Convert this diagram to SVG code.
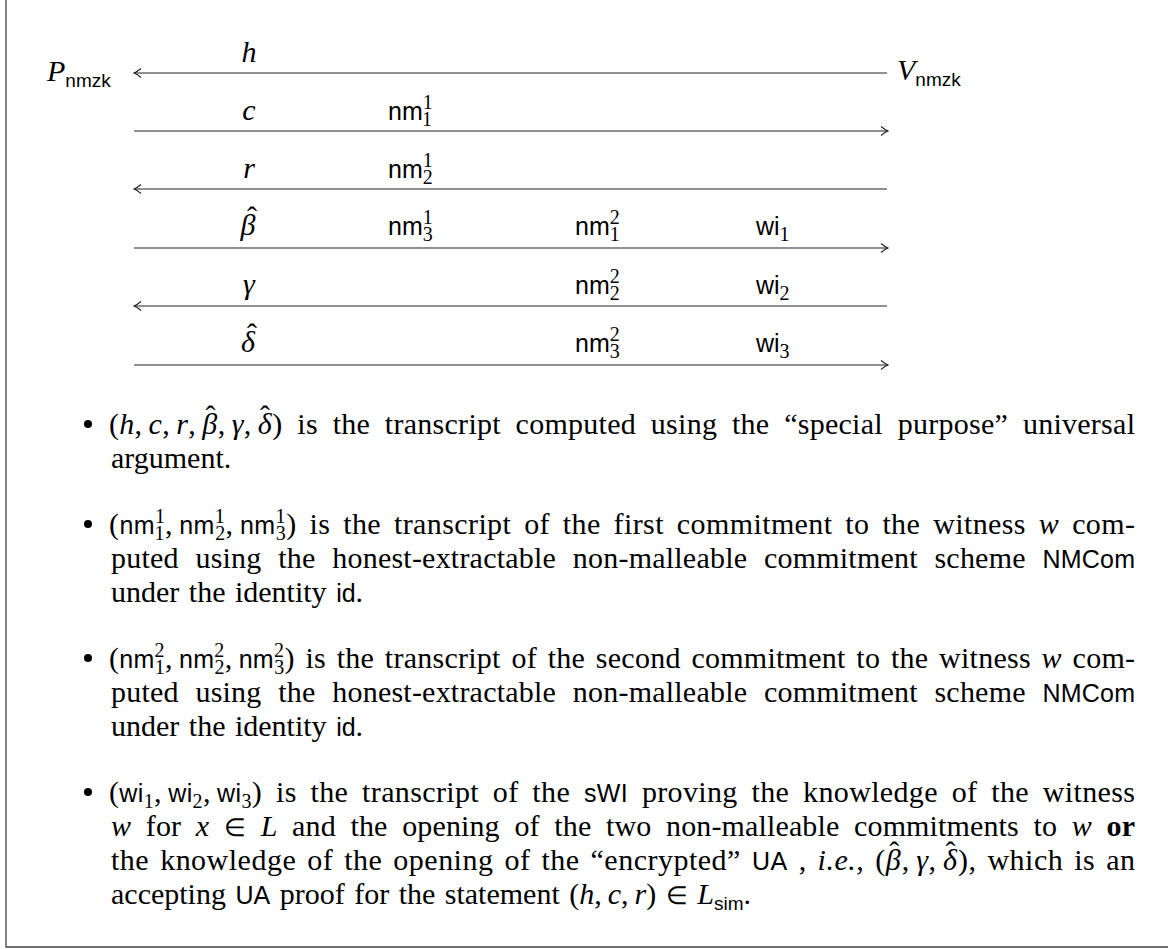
<svg xmlns="http://www.w3.org/2000/svg" width="1168" height="949" viewBox="0 0 1168 949">
<style>
.rm{font-family:"Liberation Serif",serif;font-size:30px;fill:#000}
.it{font-style:italic}
.sf{font-family:"Liberation Sans",sans-serif;font-size:25px;font-style:normal}
.sc{font-family:"Liberation Serif",serif;font-size:20px;font-style:normal}
.ss{font-family:"Liberation Sans",sans-serif;font-size:19px;font-style:normal}
.el{font-size:25px}
.bd{font-weight:bold}
.ln{stroke:#222;stroke-width:1.2;fill:none}
.frame{stroke:#444;stroke-width:1.3;fill:none}
.dot{fill:#000}
</style>
<defs>
<marker id="ah" viewBox="-8 -5 9 10" markerWidth="9" markerHeight="10" refX="0" refY="0" orient="auto" markerUnits="userSpaceOnUse">
<path d="M-7,-4.5 C-4,-2 -1.5,-0.5 0,0 C-1.5,0.5 -4,2 -7,4.5" stroke="#222" stroke-width="1.1" fill="none"/>
</marker>
</defs>
<rect width="1168" height="949" fill="#fff"/>
<path class="frame" d="M6,0 V947 H1168"/>

<g id="parties">
<text id="prover" class="rm it" x="47" y="81">P<tspan class="ss" dy="6">nmzk</tspan></text>
<text id="verifier" class="rm it" x="897" y="80">V<tspan class="ss" dy="6">nmzk</tspan></text>
</g>

<g id="connectors">
<line class="ln" x1="887" y1="73" x2="134" y2="73" marker-end="url(#ah)"/>
<line class="ln" x1="134" y1="131" x2="888" y2="131" marker-end="url(#ah)"/>
<line class="ln" x1="887" y1="189" x2="134" y2="189" marker-end="url(#ah)"/>
<line class="ln" x1="134" y1="248" x2="888" y2="248" marker-end="url(#ah)"/>
<line class="ln" x1="887" y1="306" x2="134" y2="306" marker-end="url(#ah)"/>
<line class="ln" x1="134" y1="365" x2="888" y2="365" marker-end="url(#ah)"/>
</g>

<g id="labels">
<text class="rm it" x="249" y="62" text-anchor="middle">h</text>
<text class="rm it" x="249" y="120" text-anchor="middle">c</text>
<text class="rm it" x="249" y="178" text-anchor="middle">r</text>
<text class="rm it" x="248" y="235" text-anchor="middle">β</text>
<text class="rm" x="252" y="227" text-anchor="middle">ˆ</text>
<text class="rm it" x="249" y="294" text-anchor="middle">γ</text>
<text class="rm it" x="248" y="352" text-anchor="middle">δ</text>
<text class="rm" x="252" y="344" text-anchor="middle">ˆ</text>

<text class="sf" x="388" y="120">nm<tspan class="sc" dy="-11">1</tspan><tspan class="sc" dx="-10" dy="17">1</tspan></text>
<text class="sf" x="388" y="178">nm<tspan class="sc" dy="-11">1</tspan><tspan class="sc" dx="-10" dy="17">2</tspan></text>
<text class="sf" x="388" y="235">nm<tspan class="sc" dy="-11">1</tspan><tspan class="sc" dx="-10" dy="17">3</tspan></text>

<text class="sf" x="575" y="235">nm<tspan class="sc" dy="-11">2</tspan><tspan class="sc" dx="-10" dy="17">1</tspan></text>
<text class="sf" x="575" y="294">nm<tspan class="sc" dy="-11">2</tspan><tspan class="sc" dx="-10" dy="17">2</tspan></text>
<text class="sf" x="575" y="352">nm<tspan class="sc" dy="-11">2</tspan><tspan class="sc" dx="-10" dy="17">3</tspan></text>

<text class="sf" x="756" y="235">wi<tspan class="sc" dy="6">1</tspan></text>
<text class="sf" x="756" y="294">wi<tspan class="sc" dy="6">2</tspan></text>
<text class="sf" x="756" y="352">wi<tspan class="sc" dy="6">3</tspan></text>
</g>

<g id="bullets">
<circle class="dot" cx="88" cy="424" r="4"/>
<circle class="dot" cx="88" cy="524" r="4"/>
<circle class="dot" cx="88" cy="658" r="4"/>
<circle class="dot" cx="88" cy="792" r="4"/>

<text class="rm" x="109" y="434" textLength="1026" lengthAdjust="spacing" word-spacing="7">(<tspan class="it">h</tspan>,&#8201;<tspan class="it">c</tspan>,&#8201;<tspan class="it">r</tspan>,&#8201;<tspan class="it">β</tspan><tspan dx="-12" dy="-8">ˆ</tspan><tspan dx="2" dy="8">,&#8201;</tspan><tspan class="it">γ</tspan>,&#8201;<tspan class="it">δ</tspan><tspan dx="-12" dy="-8">ˆ</tspan><tspan dx="2" dy="8">) is the transcript computed using the “special purpose” universal</tspan></text>
<text class="rm" x="111" y="468" word-spacing="2">argument.</text>

<text class="rm" x="109" y="534" textLength="1026" lengthAdjust="spacing" word-spacing="5">(<tspan class="sf">nm</tspan><tspan class="sc" dy="-11">1</tspan><tspan class="sc" dx="-10" dy="17">1</tspan><tspan dy="-6">,&#8201;</tspan><tspan class="sf">nm</tspan><tspan class="sc" dy="-11">1</tspan><tspan class="sc" dx="-10" dy="17">2</tspan><tspan dy="-6">,&#8201;</tspan><tspan class="sf">nm</tspan><tspan class="sc" dy="-11">1</tspan><tspan class="sc" dx="-10" dy="17">3</tspan><tspan dy="-6">) is the transcript of the first commitment to the witness </tspan><tspan class="it">w</tspan> com-</text>
<text class="rm" x="111" y="568" textLength="1024" lengthAdjust="spacing" word-spacing="9">puted using the honest-extractable non-malleable commitment scheme <tspan class="sf">NMCom</tspan></text>
<text class="rm" x="111" y="602" word-spacing="2">under the identity <tspan class="sf">id</tspan>.</text>

<text class="rm" x="109" y="668" textLength="1026" lengthAdjust="spacing" word-spacing="3">(<tspan class="sf">nm</tspan><tspan class="sc" dy="-11">2</tspan><tspan class="sc" dx="-10" dy="17">1</tspan><tspan dy="-6">,&#8201;</tspan><tspan class="sf">nm</tspan><tspan class="sc" dy="-11">2</tspan><tspan class="sc" dx="-10" dy="17">2</tspan><tspan dy="-6">,&#8201;</tspan><tspan class="sf">nm</tspan><tspan class="sc" dy="-11">2</tspan><tspan class="sc" dx="-10" dy="17">3</tspan><tspan dy="-6">) is the transcript of the second commitment to the witness </tspan><tspan class="it">w</tspan> com-</text>
<text class="rm" x="111" y="702" textLength="1024" lengthAdjust="spacing" word-spacing="9">puted using the honest-extractable non-malleable commitment scheme <tspan class="sf">NMCom</tspan></text>
<text class="rm" x="111" y="736" word-spacing="2">under the identity <tspan class="sf">id</tspan>.</text>

<text class="rm" x="109" y="802" textLength="1026" lengthAdjust="spacing" word-spacing="6">(<tspan class="sf">wi</tspan><tspan class="sc" dy="6">1</tspan><tspan dy="-6">,&#8201;</tspan><tspan class="sf">wi</tspan><tspan class="sc" dy="6">2</tspan><tspan dy="-6">,&#8201;</tspan><tspan class="sf">wi</tspan><tspan class="sc" dy="6">3</tspan><tspan dy="-6">) is the transcript of the </tspan><tspan class="sf">sWI</tspan> proving the knowledge of the witness</text>
<text class="rm" x="111" y="836" textLength="1024" lengthAdjust="spacing" word-spacing="7"><tspan class="it">w</tspan> for <tspan class="it">x</tspan> <tspan class="el">∈</tspan> <tspan class="it">L</tspan> and the opening of the two non-malleable commitments to <tspan class="it">w</tspan> <tspan class="bd">or</tspan></text>
<text class="rm" x="111" y="870" textLength="1024" lengthAdjust="spacing" word-spacing="3">the knowledge of the opening of the “encrypted” <tspan class="sf">UA</tspan> , <tspan class="it">i.e.</tspan>, (<tspan class="it">β</tspan><tspan dx="-12" dy="-8">ˆ</tspan><tspan dx="2" dy="8">,&#8201;</tspan><tspan class="it">γ</tspan>,&#8201;<tspan class="it">δ</tspan><tspan dx="-12" dy="-8">ˆ</tspan><tspan dx="2" dy="8">), which is an</tspan></text>
<text class="rm" x="111" y="904" word-spacing="2">accepting <tspan class="sf">UA</tspan> proof for the statement (<tspan class="it">h</tspan>,&#8201;<tspan class="it">c</tspan>,&#8201;<tspan class="it">r</tspan>) <tspan class="el">∈</tspan> <tspan class="it">L</tspan><tspan class="ss" dy="6">sim</tspan><tspan dy="-6">.</tspan></text>
</g>
</svg>
